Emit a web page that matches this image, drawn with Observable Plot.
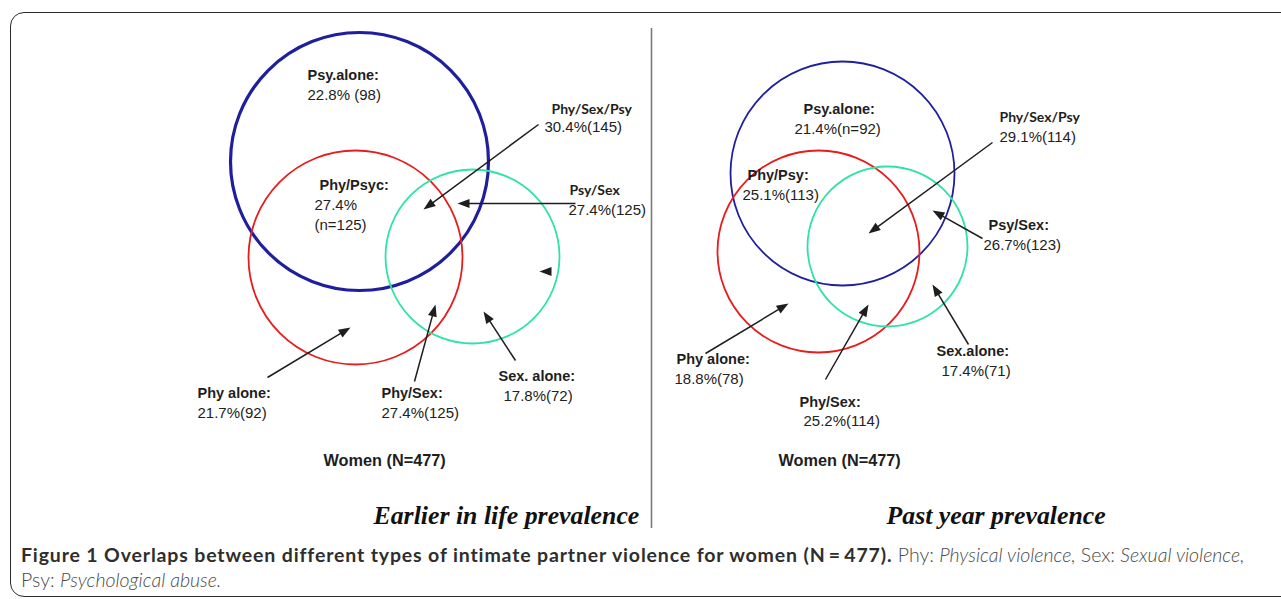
<!DOCTYPE html>
<html>
<head>
<meta charset="utf-8">
<script src="https://cdn.jsdelivr.net/npm/d3@7"></script>
<script src="https://cdn.jsdelivr.net/npm/@observablehq/plot@0.6"></script>
<style>
  html, body { margin: 0; padding: 0; background: #fff; }
  body { width: 1281px; height: 599px; overflow: hidden; position: relative; }
  #frame { position: absolute; left: 10px; top: 12px; width: 1300px; height: 585px;
           border: 1.5px solid #2a2a2a; border-radius: 14px; box-sizing: border-box; }
  #chart { position: absolute; left: 0; top: 0; }
  #caption { position: absolute; left: 21px; top: 542px; width: 1255px;
             font-family: Lato, "Open Sans", sans-serif; font-size: 19.5px; line-height: 25px;
             color: #4a4a4a; font-weight: 300; white-space: nowrap; letter-spacing: 0px; }
  #caption b { font-weight: 700; color: #2e2e2e; letter-spacing: 0.85px; }
  #caption i { font-style: italic; }
</style>
</head>
<body>
<div id="frame"></div>
<div id="chart"></div>
<div id="caption"><b>Figure 1 Overlaps between different types of intimate partner violence for women (N&#8201;=&#8201;477).</b> Phy: <i>Physical violence,</i> Sex: <i>Sexual violence,</i><br>Psy: <i>Psychological abuse.</i></div>
<script>
// ---------------- data ----------------
const panels = ["Earlier in life prevalence", "Past year prevalence"];
const sampleLabel = "Women (N=477)";
const sets = ["Psy", "Phy", "Sex"];
const regions = ["Psy alone", "Phy/Psy", "Phy/Sex/Psy", "Psy/Sex", "Phy alone", "Phy/Sex", "Sex alone"];

const earlierTitles = ["Psy.alone:", "Phy/Psyc:", "Phy/Sex/Psy", "Psy/Sex", "Phy alone:", "Phy/Sex:", "Sex. alone:"];
const earlierPct = [22.8, 27.4, 30.4, 27.4, 21.7, 27.4, 17.8];
const earlierN = [98, 125, 145, 125, 92, 125, 72];
const earlierFmt = ["space", "newline", "", "", "", "", ""];

const pastTitles = ["Psy.alone:", "Phy/Psy:", "Phy/Sex/Psy", "Psy/Sex:", "Phy alone:", "Phy/Sex:", "Sex.alone:"];
const pastPct = [21.4, 25.1, 29.1, 26.7, 18.8, 25.2, 17.4];
const pastN = [92, 113, 114, 123, 78, 114, 71];
const pastFmt = ["n=", "", "", "", "", "", ""];

// ---------------- layout (pixel space of the figure) ----------------
const W = 1281, H = 535;
const setColors = ["#1f1f9e", "#e81c1c", "#2ee3a3"];
const circleGeom = [ // [cx, cy, r, strokeWidth] per set, per panel
  [[359, 161, 129, 3.2], [355, 257, 107, 1.8], [472, 256, 87, 1.8]],
  [[842, 173, 112, 1.8], [818, 251, 101, 1.8], [887, 246, 80, 1.8]]
];
const titleXY = [
  [[307, 79], [319, 189], [551, 113], [569, 194], [197, 397], [381, 397], [498, 380]],
  [[803, 113], [747, 179], [999, 121], [988, 229], [676, 363], [799, 406], [936, 355]]
];
const valueXY = [
  [[307, 99], [314, 229], [544, 131], [568, 214], [197, 417], [381, 417], [503, 400]],
  [[794, 133], [742, 199], [999, 141], [983, 249], [674, 383], [803, 425], [941, 375]]
];
const altFont = [
  [false, false, true, true, false, false, false],
  [false, false, true, false, false, false, false]
];
const arrowXY = [ // tail x, tail y, tip x, tip y
  [null, null, [538, 124, 423, 209], [575, 203, 457, 203], [267, 377, 350, 327], [414, 381, 435, 304], [515, 360, 483, 311]],
  [null, null, [992, 142, 868, 233], [982, 238, 932, 210], [705, 353, 788, 303], [825, 379, 868, 304], [968, 344, 932, 284]]
];
const strayHeads = [[551, 271, 539, 271]];
const panelTitleXY = [[373, 523], [886, 523]];
const sampleXY = [[323, 465], [778, 465]];
const dividerX = 651, dividerY = [28, 528];

// ---------------- build tables ----------------
function fmt(p, n, f) {
  if (f === "space") return `${p}% (${n})`;
  if (f === "newline") return `${p}%\n(n=${n})`;
  if (f === "n=") return `${p}%(n=${n})`;
  return `${p}%(${n})`;
}
const panelData = [
  {titles: earlierTitles, pct: earlierPct, n: earlierN, f: earlierFmt},
  {titles: pastTitles, pct: pastPct, n: pastN, f: pastFmt}
];
const circles = [], labels = [], shafts = [], heads = [];
const HEAD_L = 12, HEAD_W = 9;
function addArrow(a, shaft) {
  const [x1, y1, x2, y2] = a;
  const dx = x2 - x1, dy = y2 - y1, L = Math.hypot(dx, dy), ux = dx / L, uy = dy / L;
  if (shaft) shafts.push({x1, y1, x2: x2 - ux * (HEAD_L - 2), y2: y2 - uy * (HEAD_L - 2)});
  heads.push({x: x2, y: y2, rot: Math.atan2(dx, -dy) * 180 / Math.PI});
}
panelData.forEach((pd, pi) => {
  sets.forEach((s, si) => {
    const [cx, cy, r, sw] = circleGeom[pi][si];
    circles.push({set: s, cx, cy, r, sw, color: setColors[si]});
  });
  regions.forEach((reg, ri) => {
    labels.push({
      region: reg,
      title: pd.titles[ri],
      value: fmt(pd.pct[ri], pd.n[ri], pd.f[ri]),
      tx: titleXY[pi][ri][0], ty: titleXY[pi][ri][1],
      vx: valueXY[pi][ri][0], vy: valueXY[pi][ri][1],
      alt: altFont[pi][ri]
    });
    if (arrowXY[pi][ri]) addArrow(arrowXY[pi][ri], true);
  });
});
strayHeads.forEach(a => addArrow(a, false));
const panelRows = panels.map((p, i) => ({text: p, x: panelTitleXY[i][0], y: panelTitleXY[i][1]}));
const sampleRows = panels.map((p, i) => ({text: sampleLabel, x: sampleXY[i][0], y: sampleXY[i][1]}));

const headSymbol = {
  draw(ctx) {
    ctx.moveTo(0, 0);
    ctx.lineTo(-HEAD_W / 2, HEAD_L);
    ctx.lineTo(HEAD_W / 2, HEAD_L);
    ctx.closePath();
  }
};

const sans = "'Liberation Sans', Arial, sans-serif";
const alt = "Lato, 'Open Sans', sans-serif";
const ink = "#1e1e1e";

const chart = Plot.plot({
  width: W, height: H, margin: 0,
  x: {domain: [0, W], range: [0, W], axis: null},
  y: {domain: [0, H], range: [0, H], axis: null},
  r: {type: "identity"},
  style: {background: "transparent", overflow: "visible"},
  marks: [
    Plot.ruleX([dividerX], {y1: dividerY[0], y2: dividerY[1], stroke: "#7a7a7a", strokeWidth: 1.6}),
    Plot.dot(circles, {x: "cx", y: "cy", r: "r", stroke: "color", strokeWidth: "sw", fill: "none"}),
    Plot.link(shafts, {x1: "x1", y1: "y1", x2: "x2", y2: "y2", stroke: ink, strokeWidth: 1.5}),
    Plot.dot(heads, {x: "x", y: "y", rotate: "rot", symbol: headSymbol, r: 5, fill: ink, stroke: "none"}),
    Plot.text(labels.filter(d => !d.alt), {x: "tx", y: "ty", text: "title", textAnchor: "start", lineAnchor: "bottom",
      fontFamily: sans, fontWeight: "bold", fontSize: 14.5, fill: ink}),
    Plot.text(labels.filter(d => d.alt), {x: "tx", y: "ty", text: "title", textAnchor: "start", lineAnchor: "bottom",
      fontFamily: alt, fontWeight: "bold", fontSize: 14, fill: ink}),
    Plot.text(labels, {x: "vx", y: "vy", text: "value", textAnchor: "start", lineAnchor: "bottom", lineHeight: 1.333,
      fontFamily: sans, fontSize: 15, fill: "#222"}),
    Plot.text(sampleRows, {x: "x", y: "y", text: "text", textAnchor: "start", lineAnchor: "bottom",
      fontFamily: sans, fontWeight: "bold", fontSize: 16.3, fill: ink}),
    Plot.text(panelRows, {x: "x", y: "y", text: "text", textAnchor: "start", lineAnchor: "bottom",
      fontFamily: "'Liberation Serif', 'Times New Roman', serif", fontWeight: "bold", fontStyle: "italic", fontSize: 25.8, fill: "#111"})
  ]
});
document.getElementById("chart").appendChild(chart);
</script>
</body>
</html>
